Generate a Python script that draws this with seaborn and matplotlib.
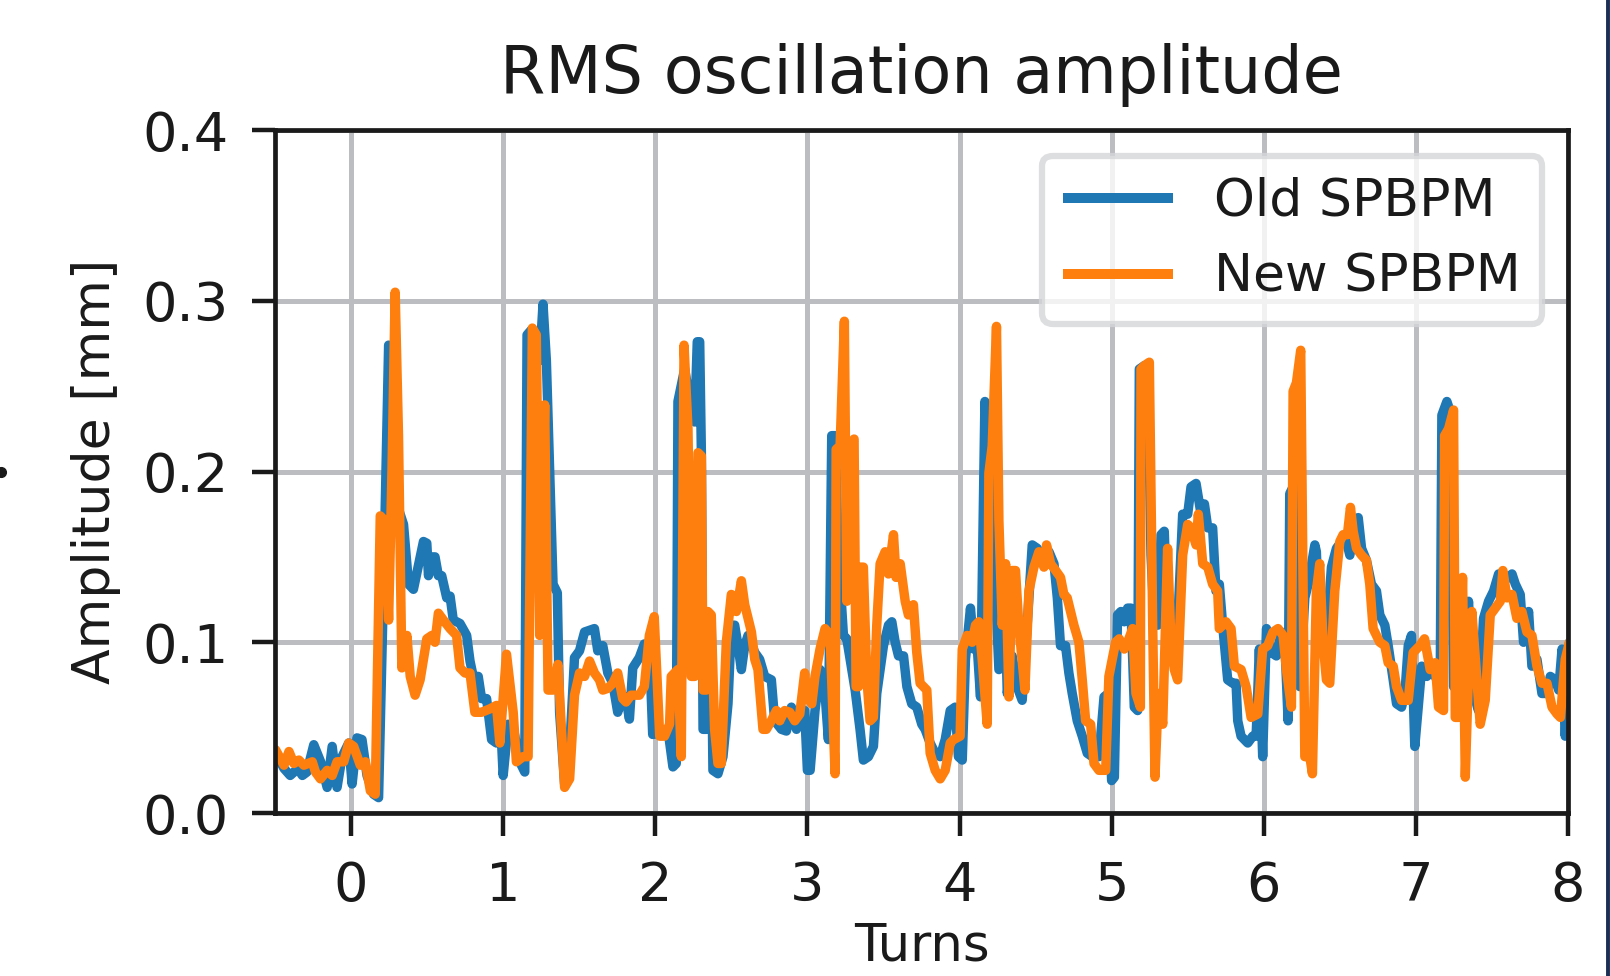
import numpy as np
import pandas as pd
import matplotlib
matplotlib.use("Agg")
import matplotlib.pyplot as plt
from matplotlib.lines import Line2D
import seaborn as sns

# ==========================
# DATA
# ==========================
old_turns = [
    -0.496, -0.44, -0.40, -0.35, -0.32, -0.29, -0.245, -0.20, -0.157, -0.124,
    -0.092, -0.059, -0.015, 0.007, 0.039, 0.072, 0.105, 0.148, 0.181, 0.214,
    0.247, 0.269, 0.312, 0.345, 0.378, 0.41, 0.443, 0.476, 0.498, 0.509,
    0.531, 0.552, 0.574, 0.596, 0.629, 0.651, 0.672, 0.716, 0.76, 0.782,
    0.803, 0.836, 0.858, 0.891, 0.924, 0.956, 0.978, 1.0, 1.033, 1.066,
    1.109, 1.142, 1.157, 1.186, 1.218, 1.24, 1.262, 1.284, 1.306, 1.328,
    1.356, 1.371, 1.404, 1.437, 1.469, 1.502, 1.535, 1.568, 1.6, 1.622,
    1.655, 1.688, 1.721, 1.753, 1.786, 1.808, 1.83, 1.852, 1.895, 1.928,
    1.961, 1.983, 2.04, 2.083, 2.116, 2.138, 2.149, 2.193, 2.248, 2.259,
    2.276, 2.292, 2.303, 2.314, 2.336, 2.346, 2.368, 2.379, 2.412, 2.445,
    2.478, 2.5, 2.522, 2.544, 2.566, 2.588, 2.61, 2.654, 2.686, 2.719,
    2.763, 2.785, 2.829, 2.862, 2.895, 2.928, 2.961, 2.982, 3.0, 3.018,
    3.05, 3.083, 3.116, 3.138, 3.16, 3.182, 3.204, 3.237, 3.259, 3.281,
    3.314, 3.346, 3.368, 3.401, 3.434, 3.456, 3.5, 3.533, 3.555, 3.577,
    3.599, 3.632, 3.654, 3.686, 3.719, 3.752, 3.774, 3.807, 3.84, 3.873,
    3.906, 3.939, 3.971, 3.993, 4.018, 4.039, 4.072, 4.094, 4.116, 4.138,
    4.167, 4.193, 4.226, 4.259, 4.292, 4.314, 4.346, 4.379, 4.412, 4.445,
    4.478, 4.511, 4.544, 4.588, 4.621, 4.643, 4.664, 4.697, 4.719, 4.741,
    4.774, 4.807, 4.84, 4.873, 4.917, 4.95, 4.978, 5.0, 5.018, 5.039,
    5.061, 5.083, 5.105, 5.127, 5.149, 5.171, 5.182, 5.215, 5.237, 5.259,
    5.281, 5.303, 5.325, 5.346, 5.368, 5.401, 5.434, 5.467, 5.5, 5.522,
    5.555, 5.588, 5.61, 5.632, 5.664, 5.686, 5.708, 5.73, 5.763, 5.796,
    5.818, 5.829, 5.851, 5.895, 5.928, 5.95, 5.971, 5.993, 6.018, 6.05,
    6.083, 6.116, 6.138, 6.16, 6.171, 6.193, 6.226, 6.237, 6.27, 6.292,
    6.336, 6.346, 6.368, 6.39, 6.412, 6.445, 6.478, 6.511, 6.544, 6.566,
    6.599, 6.621, 6.643, 6.675, 6.708, 6.741, 6.763, 6.796, 6.818, 6.851,
    6.873, 6.906, 6.928, 6.95, 6.971, 6.993, 7.039, 7.072, 7.105, 7.138,
    7.16, 7.171, 7.204, 7.226, 7.248, 7.281, 7.314, 7.346, 7.379, 7.412,
    7.445, 7.478, 7.511, 7.544, 7.577, 7.61, 7.632, 7.654, 7.686, 7.708,
    7.741, 7.763, 7.796, 7.829, 7.862, 7.884, 7.917, 7.939, 7.961, 7.982,
    8.01,
]
old_amp = [
    0.035, 0.026, 0.022, 0.026, 0.022, 0.024, 0.040, 0.030, 0.015, 0.039,
    0.015, 0.033, 0.041, 0.017, 0.044, 0.043, 0.022, 0.011, 0.009, 0.134,
    0.274, 0.273, 0.178, 0.169, 0.134, 0.131, 0.145, 0.159, 0.158, 0.139,
    0.150, 0.150, 0.139, 0.139, 0.126, 0.127, 0.113, 0.111, 0.104, 0.089,
    0.080, 0.080, 0.067, 0.067, 0.043, 0.041, 0.063, 0.022, 0.052, 0.050,
    0.030, 0.024, 0.280, 0.283, 0.275, 0.265, 0.298, 0.265, 0.200, 0.134,
    0.129, 0.059, 0.017, 0.037, 0.091, 0.095, 0.106, 0.107, 0.108, 0.095,
    0.098, 0.082, 0.076, 0.059, 0.069, 0.067, 0.055, 0.085, 0.091, 0.099,
    0.098, 0.046, 0.047, 0.049, 0.027, 0.029, 0.241, 0.260, 0.231, 0.229,
    0.276, 0.276, 0.211, 0.049, 0.049, 0.114, 0.110, 0.025, 0.023, 0.033,
    0.064, 0.110, 0.110, 0.098, 0.084, 0.098, 0.104, 0.094, 0.090, 0.080,
    0.078, 0.054, 0.049, 0.048, 0.062, 0.049, 0.060, 0.060, 0.025, 0.025,
    0.060, 0.084, 0.070, 0.043, 0.221, 0.221, 0.151, 0.104, 0.102, 0.090,
    0.072, 0.049, 0.031, 0.033, 0.039, 0.070, 0.098, 0.110, 0.112, 0.100,
    0.092, 0.092, 0.074, 0.064, 0.062, 0.052, 0.049, 0.041, 0.035, 0.033,
    0.043, 0.060, 0.062, 0.033, 0.031, 0.090, 0.120, 0.096, 0.098, 0.068,
    0.241, 0.211, 0.151, 0.084, 0.144, 0.070, 0.092, 0.074, 0.066, 0.110,
    0.157, 0.155, 0.148, 0.153, 0.146, 0.126, 0.098, 0.098, 0.082, 0.070,
    0.054, 0.045, 0.035, 0.033, 0.033, 0.068, 0.070, 0.019, 0.021, 0.116,
    0.118, 0.112, 0.120, 0.120, 0.062, 0.060, 0.260, 0.262, 0.262, 0.151,
    0.110, 0.110, 0.163, 0.165, 0.108, 0.100, 0.110, 0.175, 0.175, 0.191,
    0.193, 0.175, 0.181, 0.167, 0.167, 0.130, 0.134, 0.110, 0.078, 0.076,
    0.076, 0.054, 0.045, 0.041, 0.045, 0.045, 0.096, 0.033, 0.108, 0.094,
    0.092, 0.106, 0.102, 0.054, 0.187, 0.191, 0.249, 0.074, 0.126, 0.134,
    0.157, 0.153, 0.096, 0.096, 0.102, 0.144, 0.155, 0.159, 0.159, 0.151,
    0.171, 0.173, 0.155, 0.148, 0.134, 0.130, 0.116, 0.110, 0.098, 0.078,
    0.064, 0.062, 0.070, 0.098, 0.104, 0.039, 0.086, 0.080, 0.084, 0.078,
    0.074, 0.233, 0.241, 0.235, 0.074, 0.106, 0.080, 0.124, 0.070, 0.060,
    0.114, 0.124, 0.130, 0.140, 0.136, 0.138, 0.140, 0.134, 0.128, 0.100,
    0.118, 0.086, 0.090, 0.070, 0.070, 0.080, 0.078, 0.072, 0.096, 0.045,
    0.100,
]

new_turns = [
    -0.496, -0.441, -0.408, -0.376, -0.343, -0.31, -0.255, -0.234, -0.201, -0.157,
    -0.124, -0.092, -0.048, -0.015, 0.017, 0.061, 0.094, 0.127, 0.159, 0.192,
    0.225, 0.247, 0.269, 0.29, 0.312, 0.334, 0.367, 0.389, 0.421, 0.454,
    0.498, 0.531, 0.552, 0.574, 0.607, 0.651, 0.694, 0.716, 0.749, 0.782,
    0.814, 0.858, 0.913, 0.956, 0.978, 1.022, 1.066, 1.087, 1.131, 1.164,
    1.192, 1.218, 1.24, 1.273, 1.295, 1.328, 1.36, 1.404, 1.437, 1.469,
    1.502, 1.535, 1.568, 1.6, 1.633, 1.655, 1.688, 1.721, 1.753, 1.786,
    1.808, 1.841, 1.895, 1.928, 1.961, 1.993, 2.029, 2.061, 2.094, 2.105,
    2.127, 2.149, 2.171, 2.189, 2.215, 2.237, 2.259, 2.281, 2.303, 2.314,
    2.336, 2.346, 2.368, 2.39, 2.412, 2.434, 2.467, 2.5, 2.533, 2.566,
    2.588, 2.632, 2.654, 2.675, 2.708, 2.73, 2.763, 2.796, 2.818, 2.851,
    2.884, 2.917, 2.95, 2.982, 2.996, 3.029, 3.05, 3.083, 3.116, 3.149,
    3.182, 3.189, 3.215, 3.243, 3.259, 3.281, 3.307, 3.32, 3.336, 3.346,
    3.368, 3.39, 3.412, 3.434, 3.456, 3.478, 3.511, 3.533, 3.566, 3.583,
    3.61, 3.643, 3.664, 3.697, 3.719, 3.741, 3.785, 3.807, 3.84, 3.873,
    3.906, 3.939, 3.961, 4.004, 4.018, 4.05, 4.083, 4.105, 4.127, 4.149,
    4.182, 4.193, 4.215, 4.243, 4.259, 4.281, 4.303, 4.325, 4.346, 4.368,
    4.39, 4.43, 4.456, 4.489, 4.522, 4.555, 4.572, 4.599, 4.632, 4.664,
    4.686, 4.708, 4.73, 4.752, 4.785, 4.807, 4.829, 4.862, 4.884, 4.917,
    4.961, 4.982, 5.026, 5.05, 5.083, 5.105, 5.138, 5.16, 5.189, 5.193,
    5.215, 5.248, 5.27, 5.285, 5.307, 5.336, 5.368, 5.39, 5.412, 5.434,
    5.467, 5.5, 5.522, 5.555, 5.57, 5.599, 5.632, 5.664, 5.697, 5.708,
    5.752, 5.785, 5.807, 5.851, 5.884, 5.917, 5.961, 5.993, 6.026, 6.061,
    6.094, 6.127, 6.149, 6.182, 6.193, 6.215, 6.243, 6.27, 6.303, 6.32,
    6.346, 6.368, 6.39, 6.412, 6.434, 6.467, 6.5, 6.522, 6.55, 6.57,
    6.588, 6.61, 6.643, 6.675, 6.697, 6.719, 6.763, 6.796, 6.818, 6.851,
    6.873, 6.906, 6.95, 6.982, 7.026, 7.057, 7.094, 7.127, 7.149, 7.182,
    7.189, 7.215, 7.248, 7.259, 7.281, 7.307, 7.325, 7.346, 7.368, 7.401,
    7.423, 7.456, 7.489, 7.522, 7.555, 7.572, 7.599, 7.632, 7.664, 7.697,
    7.73, 7.763, 7.796, 7.829, 7.862, 7.895, 7.928, 7.95, 7.982, 8.01,
]
new_amp = [
    0.037, 0.028, 0.036, 0.029, 0.031, 0.028, 0.030, 0.024, 0.020, 0.025,
    0.022, 0.030, 0.030, 0.041, 0.039, 0.028, 0.030, 0.013, 0.011, 0.174,
    0.171, 0.113, 0.200, 0.305, 0.221, 0.085, 0.104, 0.080, 0.069, 0.078,
    0.102, 0.104, 0.100, 0.117, 0.113, 0.108, 0.104, 0.085, 0.082, 0.082,
    0.059, 0.059, 0.061, 0.063, 0.041, 0.093, 0.059, 0.030, 0.033, 0.033,
    0.284, 0.280, 0.104, 0.239, 0.072, 0.072, 0.087, 0.015, 0.020, 0.069,
    0.082, 0.080, 0.089, 0.082, 0.078, 0.072, 0.073, 0.076, 0.082, 0.067,
    0.065, 0.069, 0.069, 0.074, 0.104, 0.115, 0.045, 0.045, 0.052, 0.080,
    0.082, 0.084, 0.033, 0.274, 0.225, 0.080, 0.080, 0.211, 0.209, 0.072,
    0.072, 0.118, 0.116, 0.049, 0.029, 0.029, 0.100, 0.128, 0.118, 0.136,
    0.122, 0.106, 0.090, 0.084, 0.049, 0.049, 0.054, 0.060, 0.054, 0.060,
    0.059, 0.054, 0.058, 0.082, 0.068, 0.064, 0.080, 0.096, 0.108, 0.104,
    0.023, 0.213, 0.215, 0.288, 0.124, 0.215, 0.219, 0.074, 0.074, 0.144,
    0.144, 0.080, 0.054, 0.056, 0.110, 0.146, 0.153, 0.140, 0.163, 0.138,
    0.146, 0.124, 0.116, 0.122, 0.094, 0.076, 0.072, 0.035, 0.025, 0.020,
    0.025, 0.041, 0.043, 0.045, 0.096, 0.104, 0.100, 0.110, 0.112, 0.090,
    0.052, 0.199, 0.215, 0.285, 0.171, 0.110, 0.146, 0.068, 0.142, 0.142,
    0.110, 0.072, 0.130, 0.144, 0.153, 0.144, 0.157, 0.146, 0.142, 0.138,
    0.128, 0.126, 0.118, 0.110, 0.100, 0.078, 0.054, 0.052, 0.029, 0.025,
    0.025, 0.080, 0.100, 0.102, 0.096, 0.100, 0.108, 0.070, 0.062, 0.260,
    0.262, 0.264, 0.110, 0.021, 0.070, 0.052, 0.155, 0.100, 0.084, 0.078,
    0.151, 0.169, 0.167, 0.157, 0.175, 0.146, 0.144, 0.134, 0.130, 0.108,
    0.112, 0.108, 0.086, 0.084, 0.074, 0.056, 0.058, 0.096, 0.098, 0.106,
    0.108, 0.104, 0.084, 0.062, 0.247, 0.252, 0.271, 0.033, 0.033, 0.023,
    0.130, 0.146, 0.100, 0.078, 0.076, 0.130, 0.159, 0.163, 0.163, 0.179,
    0.165, 0.155, 0.151, 0.148, 0.134, 0.108, 0.100, 0.098, 0.088, 0.086,
    0.074, 0.066, 0.066, 0.094, 0.098, 0.102, 0.084, 0.088, 0.062, 0.060,
    0.221, 0.225, 0.236, 0.056, 0.056, 0.138, 0.021, 0.082, 0.118, 0.078,
    0.052, 0.066, 0.116, 0.120, 0.124, 0.142, 0.126, 0.128, 0.114, 0.118,
    0.106, 0.104, 0.086, 0.076, 0.076, 0.062, 0.058, 0.056, 0.090, 0.100,
]

x_ticks = [0, 1, 2, 3, 4, 5, 6, 7, 8]
y_ticks = [0.0, 0.1, 0.2, 0.3, 0.4]

assert len(old_turns) == len(old_amp)
assert len(new_turns) == len(new_amp)

df = pd.concat([
    pd.DataFrame({'Turns': old_turns, 'Amplitude': old_amp, 'BPM': 'Old SPBPM'}),
    pd.DataFrame({'Turns': new_turns, 'Amplitude': new_amp, 'BPM': 'New SPBPM'}),
], ignore_index=True)

# ==========================
# STYLE
# ==========================
sns.set_theme(style='ticks', rc={
    'axes.grid': True,
    'grid.color': '#bcbdc0',
    'grid.linewidth': 3.6,
    'axes.linewidth': 3.4,
    'axes.edgecolor': '#1a1a1a',
    'xtick.major.size': 16.5,
    'ytick.major.size': 16.5,
    'xtick.major.width': 3.2,
    'ytick.major.width': 3.2,
    'xtick.color': '#1a1a1a',
    'ytick.color': '#1a1a1a',
    'text.color': '#1a1a1a',
    'axes.labelcolor': '#1a1a1a',
})
plt.rcParams['font.family'] = ['DejaVu Sans']

# ==========================
# PLOT
# ==========================
fig = plt.figure(figsize=(16.1, 9.76), dpi=100)
ax = fig.add_axes([0.1708, 0.167, 0.8031, 0.6998])

sns.lineplot(data=df, x='Turns', y='Amplitude', hue='BPM',
             palette=['#1f77b4', '#ff7f0e'], estimator=None, sort=False,
             ax=ax)
for line in ax.lines:
    line.set_linewidth(6.8)
    line.set_solid_joinstyle('round')
    line.set_solid_capstyle('round')

ax.set_xlim(-0.5, 8)
ax.set_ylim(0, 0.4)
ax.set_xticks(x_ticks)
ax.set_yticks(y_ticks)
ax.set_yticklabels([f'{v:.1f}' for v in y_ticks])
ax.tick_params(axis='both', labelsize=39, pad=17)

ax.set_title('RMS oscillation amplitude', fontsize=47, pad=27)
ax.set_xlabel('Turns', fontsize=37, labelpad=7)
ax.set_ylabel('Amplitude [mm]', fontsize=37.5, labelpad=15)

leg = ax.legend(loc='upper right', fontsize=37.5, frameon=True,
                handlelength=2.1, title=None)
leg.get_frame().set_edgecolor('#d5d6d8')
leg.get_frame().set_linewidth(4.5)
for h in leg.get_lines():
    h.set_linewidth(7.2)
    h.set_solid_capstyle('butt')

# edge of neighbouring panel on the right, stray mark on the left
fig.add_artist(Line2D([0.9985, 0.9985], [0, 1], transform=fig.transFigure,
                      color='#1b2f55', linewidth=2.8))
fig.add_artist(Line2D([0.0005], [0.5164], transform=fig.transFigure,
                      marker='o', markersize=7, color='#1a1a1a',
                      linestyle='none'))

fig.savefig('out.png', dpi=100)
